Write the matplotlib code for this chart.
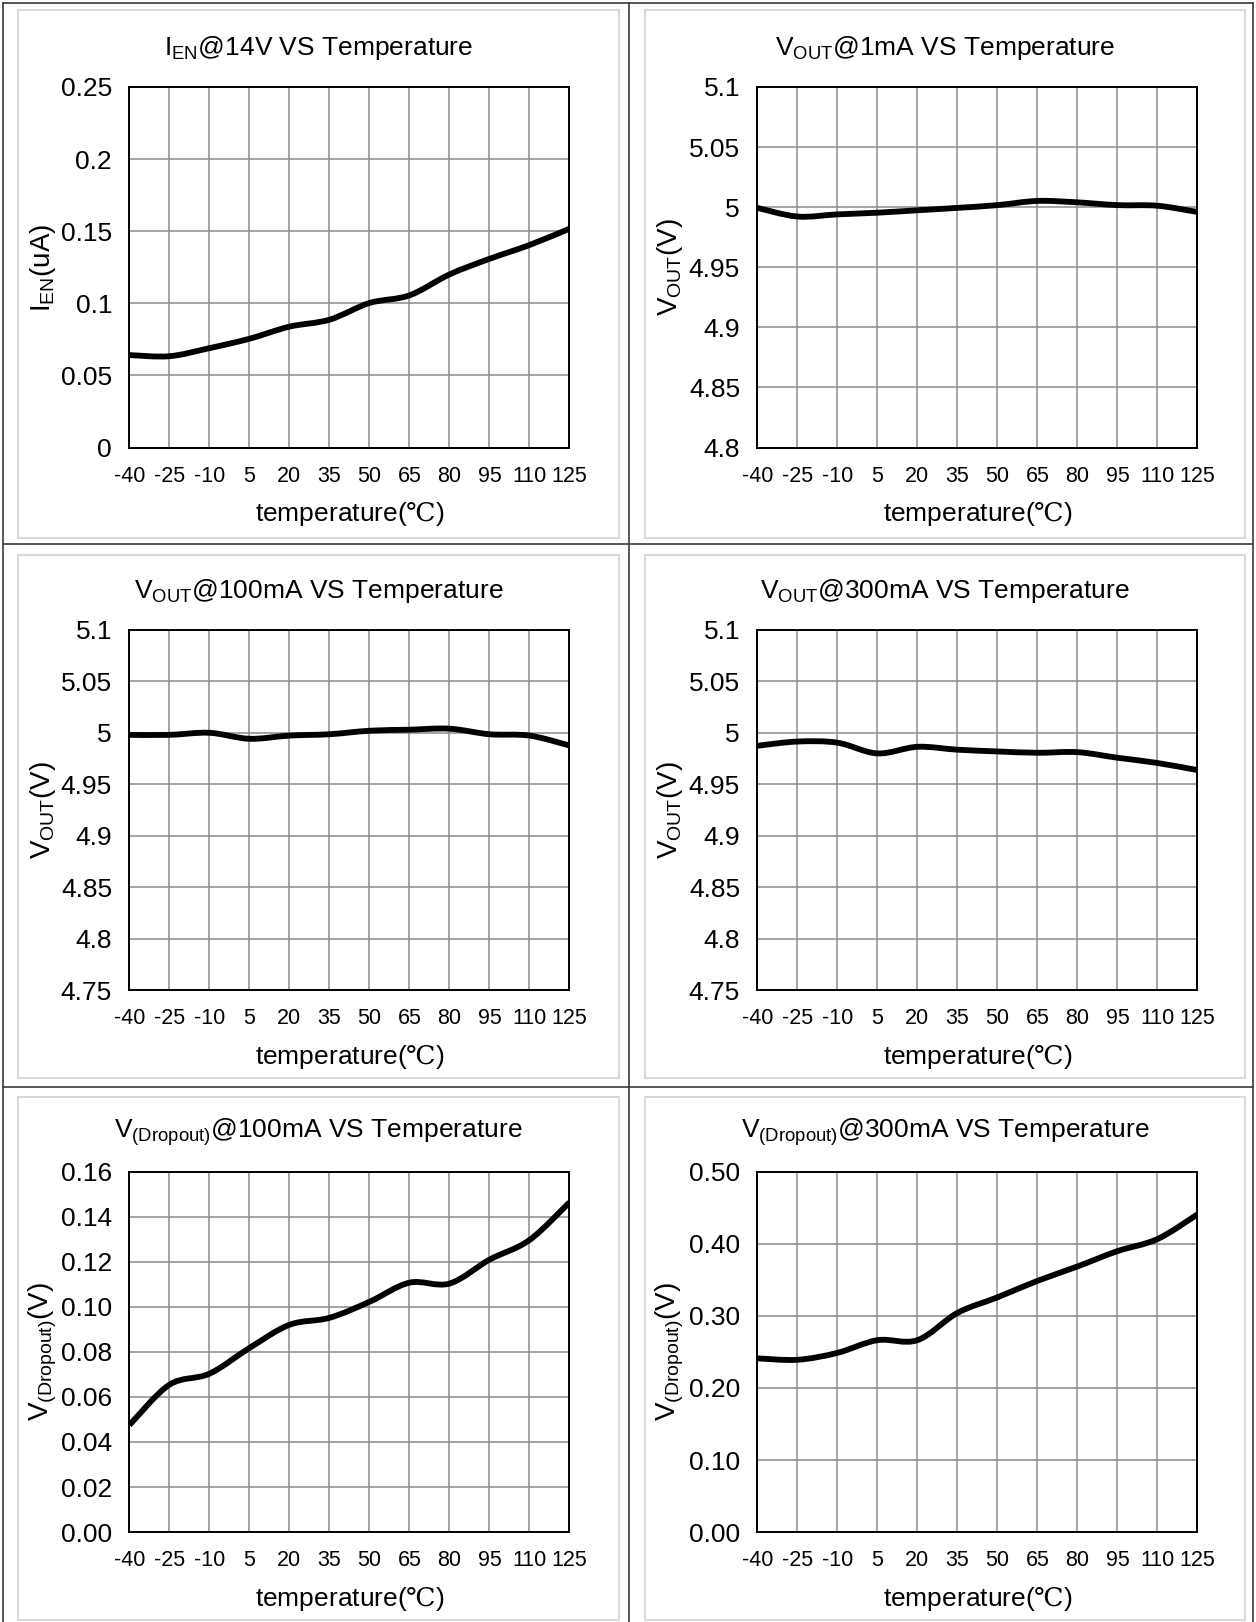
import numpy as np
import matplotlib
matplotlib.use("Agg")
import matplotlib.pyplot as plt
from matplotlib.path import Path
from matplotlib.patches import PathPatch, Rectangle
from matplotlib.lines import Line2D

plt.rcParams["font.family"] = ["Liberation Sans", "DejaVu Sans"]
plt.rcParams["mathtext.fontset"] = "custom"
plt.rcParams["mathtext.rm"] = "Liberation Sans"
plt.rcParams["mathtext.it"] = "Liberation Sans:italic"
plt.rcParams["mathtext.bf"] = "Liberation Sans:bold"
plt.rcParams["mathtext.sf"] = "DejaVu Serif"

# ---------------------------------------------------------------------------
# Data
# ---------------------------------------------------------------------------
TEMPS = [-40, -25, -10, 5, 20, 35, 50, 65, 80, 95, 110, 125]

IEN_14V = [0.0641, 0.0633, 0.0689, 0.0754, 0.0838, 0.0886,
           0.1002, 0.1055, 0.1200, 0.1308, 0.1404, 0.1517]
VOUT_1MA = [4.9994, 4.9922, 4.9940, 4.9954, 4.9974, 4.9994,
            5.0017, 5.0052, 5.0040, 5.0017, 5.0012, 4.9960]
VOUT_100MA = [4.9980, 4.9980, 5.0000, 4.9942, 4.9973, 4.9986,
              5.0020, 5.0030, 5.0040, 4.9986, 4.9973, 4.9877]
VOUT_300MA = [4.9874, 4.9915, 4.9904, 4.9800, 4.9864, 4.9836,
              4.9819, 4.9806, 4.9812, 4.9758, 4.9707, 4.9638]
VDROP_100MA = [0.0475, 0.0654, 0.0703, 0.0817, 0.0920, 0.0951,
               0.1022, 0.1107, 0.1103, 0.1209, 0.1296, 0.1463]
VDROP_300MA = [0.2410, 0.2390, 0.2486, 0.2662, 0.2662, 0.3040,
               0.3256, 0.3484, 0.3684, 0.3897, 0.4064, 0.4406]

TITLES = [
    r"I$_{\mathrm{EN}}$@14V VS Temperature",
    r"V$_{\mathrm{OUT}}$@1mA VS Temperature",
    r"V$_{\mathrm{OUT}}$@100mA VS Temperature",
    r"V$_{\mathrm{OUT}}$@300mA VS Temperature",
    r"V$_{\mathrm{(Dropout)}}$@100mA VS Temperature",
    r"V$_{\mathrm{(Dropout)}}$@300mA VS Temperature",
]
YLABELS = [
    r"I$_{\mathrm{EN}}$(uA)",
    r"V$_{\mathrm{OUT}}$(V)",
    r"V$_{\mathrm{OUT}}$(V)",
    r"V$_{\mathrm{OUT}}$(V)",
    r"V$_{\mathrm{(Dropout)}}$(V)",
    r"V$_{\mathrm{(Dropout)}}$(V)",
]
XLABEL = "temperature($\\mathsf{\u2103}$)"

YTICKS_IEN = [0, 0.05, 0.1, 0.15, 0.2, 0.25]
YTICKLABELS_IEN = ["0", "0.05", "0.1", "0.15", "0.2", "0.25"]
YTICKS_VOUT1 = [4.8, 4.85, 4.9, 4.95, 5.0, 5.05, 5.1]
YTICKLABELS_VOUT1 = ["4.8", "4.85", "4.9", "4.95", "5", "5.05", "5.1"]
YTICKS_VOUT = [4.75, 4.8, 4.85, 4.9, 4.95, 5.0, 5.05, 5.1]
YTICKLABELS_VOUT = ["4.75", "4.8", "4.85", "4.9", "4.95", "5", "5.05", "5.1"]
YTICKS_VD100 = [0, 0.02, 0.04, 0.06, 0.08, 0.10, 0.12, 0.14, 0.16]
YTICKLABELS_VD100 = ["0.00", "0.02", "0.04", "0.06", "0.08",
                     "0.10", "0.12", "0.14", "0.16"]
YTICKS_VD300 = [0, 0.1, 0.2, 0.3, 0.4, 0.5]
YTICKLABELS_VD300 = ["0.00", "0.10", "0.20", "0.30", "0.40", "0.50"]

PANELS = [
    (IEN_14V, YTICKS_IEN, YTICKLABELS_IEN),
    (VOUT_1MA, YTICKS_VOUT1, YTICKLABELS_VOUT1),
    (VOUT_100MA, YTICKS_VOUT, YTICKLABELS_VOUT),
    (VOUT_300MA, YTICKS_VOUT, YTICKLABELS_VOUT),
    (VDROP_100MA, YTICKS_VD100, YTICKLABELS_VD100),
    (VDROP_300MA, YTICKS_VD300, YTICKLABELS_VD300),
]

# ---------------------------------------------------------------------------
# Layout (pixels)
# ---------------------------------------------------------------------------
W, H = 1256, 1622
DPI = 100
COL_X = [129.4, 757.4]          # axes left
AX_W = 440.0
ROW_TOP = [87.0, 629.8, 1171.6]  # axes top
AX_H = 360.5
FRAME_X = [(18, 619), (645, 1245)]
FRAME_Y = [(10, 538), (555, 1078), (1097, 1620)]


def smooth_path(x, y):
    """Excel-style smoothed line through the points (cubic Bezier)."""
    pts = np.column_stack([x, y]).astype(float)
    n = len(pts)
    verts = [pts[0]]
    codes = [Path.MOVETO]
    for i in range(n - 1):
        p0 = pts[max(i - 1, 0)]
        p1 = pts[i]
        p2 = pts[i + 1]
        p3 = pts[min(i + 2, n - 1)]
        verts += [p1 + (p2 - p0) / 6, p2 - (p3 - p1) / 6, p2]
        codes += [Path.CURVE4] * 3
    return Path(verts, codes)


fig = plt.figure(figsize=(W / DPI, H / DPI), dpi=DPI)
fig.patch.set_facecolor("white")

# table lines
tbl = dict(color="#3a3a3a", lw=1.2, transform=fig.transFigure)
for xp in [3, 629, 1253]:
    fig.add_artist(Line2D([xp / W, xp / W], [0, 1 - 3 / H], **tbl))
for yp in [3, 544, 1087]:
    fig.add_artist(Line2D([3 / W, 1253 / W], [1 - yp / H, 1 - yp / H], **tbl))

for k, (vals, yt, ytl) in enumerate(PANELS):
    r, c = divmod(k, 2)
    fx0, fx1 = FRAME_X[c]
    fy0, fy1 = FRAME_Y[r]
    fig.add_artist(Rectangle((fx0 / W, 1 - fy1 / H), (fx1 - fx0) / W, (fy1 - fy0) / H,
                             transform=fig.transFigure, fill=False,
                             edgecolor="#d9d9d9", lw=1.5))

    ax = fig.add_axes([COL_X[c] / W, 1 - (ROW_TOP[r] + AX_H) / H, AX_W / W, AX_H / H])
    ax.set_xlim(TEMPS[0], TEMPS[-1])
    ax.set_ylim(yt[0], yt[-1])
    ax.set_xticks(TEMPS)
    ax.set_xticklabels([str(t) for t in TEMPS], fontsize=15.5)
    ax.set_yticks(yt)
    ax.set_yticklabels(ytl, fontsize=19)
    ax.tick_params(axis="both", length=0)
    ax.tick_params(axis="x", pad=13)
    ax.tick_params(axis="y", pad=12.5)
    ax.grid(True, color="#8c8c8c", lw=1.1)
    ax.set_axisbelow(True)
    for sp in ax.spines.values():
        sp.set_color("black")
        sp.set_linewidth(1.4)

    ax.add_patch(PathPatch(smooth_path(TEMPS, vals), fill=False, edgecolor="black",
                           lw=4.2, capstyle="butt", joinstyle="round", zorder=3))

    ax.set_ylabel(YLABELS[k], fontsize=20)
    ax.yaxis.label.set_va("center")
    ax.yaxis.set_label_coords(-0.196 if c == 0 else -0.199, 0.5)
    ax.set_xlabel(XLABEL, fontsize=19)
    ax.xaxis.set_label_coords(0.5, -67 / AX_H)
    ax.xaxis.label.set_va("center")

    fig.text((fx0 + fx1) / 2 / W, 1 - (ROW_TOP[r] - 39) / H, TITLES[k],
             ha="center", va="center", fontsize=19)

fig.savefig("out.png", dpi=DPI, facecolor="white")
